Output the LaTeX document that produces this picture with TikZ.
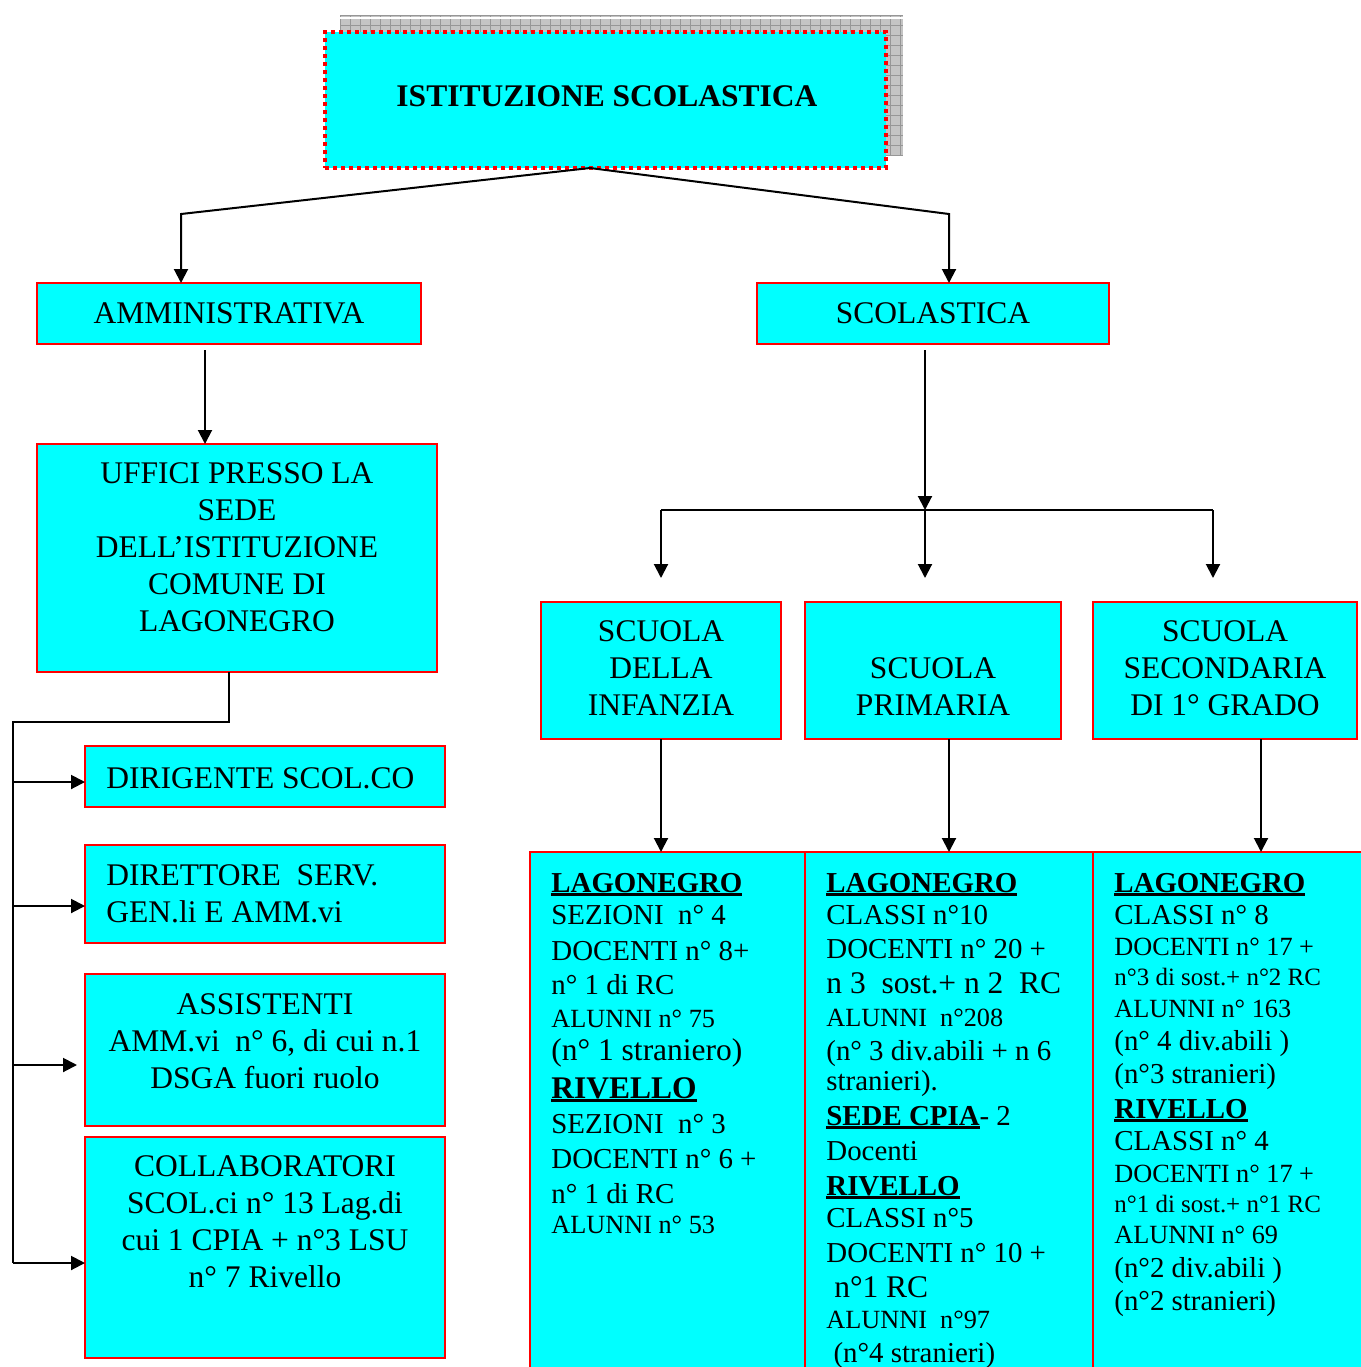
\documentclass[tikz,border=0pt]{standalone}
\usepackage{fontspec}
\setmainfont{Liberation Serif}
\usetikzlibrary{arrows.meta}
\definecolor{aqua}{RGB}{0,255,255}
\definecolor{bred}{RGB}{255,0,0}
\definecolor{shgray}{RGB}{196,196,196}
\definecolor{shline}{RGB}{150,150,150}
\newcommand\szL{\fontsize{15.75pt}{18.5pt}\selectfont}
\newcommand\szM{\fontsize{14.44pt}{17pt}\selectfont}
\newcommand\szS{\fontsize{13.13pt}{15.5pt}\selectfont}
\newcommand\szX{\fontsize{12.47pt}{15pt}\selectfont}
\newcommand\ulb[1]{\setbox0\hbox{\bfseries #1}\rlap{\rule[-2.2pt]{\wd0}{1.6pt}}\box0}
\begin{document}
\begin{tikzpicture}[x=0.5pt,y=-0.5pt,
  box/.style={draw=bred,line width=1pt,fill=aqua,inner sep=0pt,outer sep=0pt,anchor=north west},
  arr/.style={line width=1pt,-{Triangle[length=7pt,width=7pt]}},
  ln/.style={line width=1pt},
  txt/.style={inner sep=0pt,align=center,font=\szL},
  row/.style={inner sep=0pt,anchor=base west}]
\useasboundingbox (0,0) rectangle (1361,1367);
\clip (0,0) rectangle (1361,1367);
% shadow of the title box
\begin{scope}
  \clip (340,15) rectangle (903,155);
  \fill[shgray] (340,15) rectangle (903,155);
  \foreach \gx in {340,350,...,910} \draw[shline,line width=0.5pt] (\gx,15) -- (\gx,155);
  \foreach \gy in {15,25,...,160} \draw[shline,line width=0.5pt] (340,\gy) -- (903,\gy);
  \draw[white,line width=0.6pt] (340,18) -- (903,18);
\end{scope}
% title box
\node[box,draw=bred,line width=2pt,dash pattern=on 2pt off 2pt,minimum width=280.5pt,minimum height=68pt] (top) at (325,32) {};
\node[txt,font=\szL\bfseries] (toptxt) at (607,96) {ISTITUZIONE SCOLASTICA};
% second level
\node[box,minimum width=192pt,minimum height=30.5pt,font=\szL] (amm) at (37,283) {AMMINISTRATIVA};
\node[box,minimum width=176pt,minimum height=30.5pt,font=\szL] (sco) at (757,283) {SCOLASTICA};
% uffici
\node[box,minimum width=200pt,minimum height=114pt] (uff) at (37,444) {};
\node[txt] (ufftxt) at (237,547) {UFFICI PRESSO LA\\SEDE\\DELL’ISTITUZIONE\\COMUNE DI\\LAGONEGRO};
% left boxes
\node[box,minimum width=180pt,minimum height=30.5pt] (dir) at (85,746) {};
\node[row,font=\szL] (dirtxt) at (106,788) {DIRIGENTE SCOL.CO};
\node[box,minimum width=180pt,minimum height=49pt] (dsg) at (85,845) {};
\node[txt,align=left,anchor=west] (dsgtxt) at (106,893.5) {DIRETTORE\ \ SERV.\\GEN.li E AMM.vi};
\node[box,minimum width=180pt,minimum height=76pt] (ass) at (85,974) {};
\node[txt] (asstxt) at (265,1041) {ASSISTENTI\\AMM.vi\ \ n° 6, di cui n.1\\DSGA fuori ruolo};
\node[box,minimum width=180pt,minimum height=110.5pt] (col) at (85,1137) {};
\node[txt] (coltxt) at (265,1222) {COLLABORATORI\\SCOL.ci n° 13 Lag.di\\cui 1 CPIA + n°3 LSU\\n° 7 Rivello};
% school boxes
\node[box,minimum width=120pt,minimum height=68.5pt] (inf) at (541,602) {};
\node[txt] (inftxt) at (661,668) {SCUOLA\\DELLA\\INFANZIA};
\node[box,minimum width=128pt,minimum height=68.5pt] (pri) at (805,602) {};
\node[txt] (pritxt) at (933,686.5) {SCUOLA\\PRIMARIA};
\node[box,minimum width=132pt,minimum height=68.5pt] (sec) at (1093,602) {};
\node[txt] (sectxt) at (1225,668) {SCUOLA\\SECONDARIA\\DI 1° GRADO};
% detail boxes
\node[box,minimum width=137.5pt,minimum height=270pt] (b1) at (530,852) {};
\node[box,minimum width=144pt,minimum height=270pt] (b2) at (805,852) {};
\node[box,minimum width=140pt,minimum height=270pt] (b3) at (1093,852) {};
% detail texts
\foreach \yb/\rf/\tx [count=\i] in {
  892/\szM/{\ulb{LAGONEGRO}},
  924/\szM/{SEZIONI\ \ n° 4},
  960/\szM/{DOCENTI n° 8+},
  994/\szM/{n° 1 di RC},
  1027/\szS/{ALUNNI n° 75},
  1060/\szL/{(n° 1 straniero)},
  1098/\szL/{\ulb{RIVELLO}},
  1133/\szM/{SEZIONI\ \ n° 3},
  1168/\szM/{DOCENTI n° 6 +},
  1203/\szM/{n° 1 di RC},
  1233/\szS/{ALUNNI n° 53}}
  \node[row,font=\rf] (ta\i) at (551,\yb) {\tx};
\foreach \yb/\rf/\tx [count=\i] in {
  892/\szM/{\ulb{LAGONEGRO}},
  924/\szM/{CLASSI n°10},
  958/\szM/{DOCENTI n° 20 +},
  993/\szL/{n 3\ \ sost.+ n 2\ \ RC},
  1026/\szS/{ALUNNI\ \ n°208},
  1060/\szM/{(n° 3 div.abili + n 6},
  1090/\szM/{stranieri).},
  1125/\szM/{\ulb{SEDE CPIA}- 2},
  1160/\szM/{Docenti},
  1195/\szM/{\ulb{RIVELLO}},
  1227/\szM/{CLASSI n°5},
  1262/\szM/{DOCENTI n° 10 +},
  1297/\szL/{\ n°1 RC},
  1328/\szS/{ALUNNI\ \ n°97},
  1362/\szM/{\ (n°4 stranieri)}}
  \node[row,font=\rf] (tb\i) at (826,\yb) {\tx};
\foreach \yb/\rf/\tx [count=\i] in {
  892/\szM/{\ulb{LAGONEGRO}},
  924/\szM/{CLASSI n° 8},
  955/\szS/{DOCENTI n° 17 +},
  985/\szX/{n°3 di sost.+ n°2 RC},
  1017/\szS/{ALUNNI n° 163},
  1050/\szM/{(n° 4 div.abili )},
  1083/\szM/{(n°3 stranieri)},
  1118/\szM/{\ulb{RIVELLO}},
  1150/\szM/{CLASSI n° 4},
  1182/\szS/{DOCENTI n° 17 +},
  1212/\szX/{n°1 di sost.+ n°1 RC},
  1243/\szS/{ALUNNI n° 69},
  1277/\szM/{(n°2 div.abili )},
  1310/\szM/{(n°2 stranieri)}}
  \node[row,font=\rf] (tc\i) at (1114,\yb) {\tx};
% connectors
\coordinate (t0) at (590,168);
\coordinate (c1) at (181,214);
\coordinate (c2) at (949,214);
\draw[arr] (t0) -- (c1) -- (c1 |- amm.north);
\draw[arr] (t0) -- (c2) -- (c2 |- sco.north);
\coordinate (c3) at (205,350);
\draw[arr] (c3) -- (c3 |- uff.north);
\coordinate (c4) at (229,722);
\coordinate (bt) at (13,722);
\coordinate (bb) at (13,1263);
\draw[ln] (c4 |- uff.south) -- (c4) -- (bt) -- (bb);
\coordinate (r1) at (13,782);
\coordinate (r2) at (13,906);
\coordinate (r3) at (13,1065);
\draw[arr] (r1) -- (r1 -| dir.west);
\draw[arr] (r2) -- (r2 -| dsg.west);
\draw[arr] (r3) -- ([xshift=-4pt]r3 -| ass.west);
\draw[arr] (bb) -- (bb -| col.west);
\coordinate (c5) at (925,350);
\coordinate (c6) at (925,510);
\coordinate (h1) at (661,510);
\coordinate (h3) at (1213,510);
\draw[arr] (c5) -- (c6);
\draw[ln] (h1) -- (h3);
\draw[arr] (h1) -- ([yshift=12pt]h1 |- inf.north);
\draw[arr] (c6) -- ([yshift=12pt]c6 |- pri.north);
\draw[arr] (h3) -- ([yshift=12pt]h3 |- sec.north);
\coordinate (c7) at (949,739);
\coordinate (c8) at (1261,739);
\draw[arr] (inf.south) -- (inf.south |- b1.north);
\draw[arr] (c7) -- (c7 |- b2.north);
\draw[arr] (c8) -- (c8 |- b3.north);
\end{tikzpicture}
\end{document}
